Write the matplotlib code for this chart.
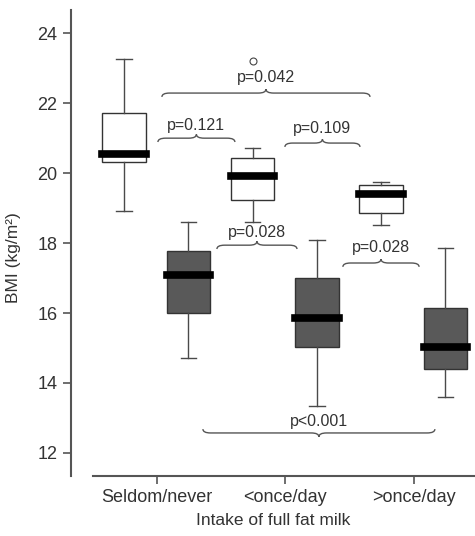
import numpy as np
import matplotlib.pyplot as plt
from matplotlib.path import Path
from matplotlib.patches import PathPatch

plt.rcParams['font.family'] = ['Liberation Sans', 'DejaVu Sans']

#%% data
categories = ['Seldom/never', '<once/day', '>once/day']

# light boxes
light_whislo = [18.91, 18.60, 18.51]
light_q1 = [20.31, 19.23, 18.86]
light_med = [20.54, 19.91, 19.40]
light_q3 = [21.71, 20.43, 19.66]
light_whishi = [23.26, 20.71, 19.74]
light_fliers = [[], [23.2], []]

# dark boxes
dark_whislo = [14.71, 13.34, 13.60]
dark_q1 = [16.00, 15.03, 14.40]
dark_med = [17.09, 15.86, 15.03]
dark_q3 = [17.77, 17.00, 16.14]
dark_whishi = [18.60, 18.09, 17.86]
dark_fliers = [[], [], []]

# comparison braces: label, x-start, x-end, brace y, text y, direction
p_labels = ['p=0.042', 'p=0.121', 'p=0.109', 'p=0.028', 'p=0.028', 'p<0.001']
p_x1 = [0.039, 0.008, 0.996, 0.467, 1.447, 0.358]
p_x2 = [1.658, 0.607, 1.580, 1.090, 2.040, 2.163]
p_ybrace = [22.29, 21.00, 20.86, 17.94, 17.43, 12.57]
p_ytext = [22.74, 21.37, 21.29, 18.29, 17.86, 12.89]
p_up = [True, True, True, True, True, False]

#%%
def make_stats(lo, q1, med, q3, hi, fl):
    return [dict(whislo=a, q1=b, med=c, q3=d, whishi=e, fliers=f)
            for a, b, c, d, e, f in zip(lo, q1, med, q3, hi, fl)]

def draw_brace(ax, x1, x2, y, up=True, h=0.11, d=0.06):
    '''curly brace, cusp points up (towards text) if up'''
    s = 1 if up else -1
    xm = (x1 + x2) / 2.
    verts = [(x1, y - s*h), (x1, y), (x1 + d, y),
             (xm - d, y), (xm, y), (xm, y + s*h),
             (xm, y), (xm + d, y),
             (x2 - d, y), (x2, y), (x2, y - s*h)]
    codes = [Path.MOVETO, Path.CURVE3, Path.CURVE3,
             Path.LINETO, Path.CURVE3, Path.CURVE3,
             Path.CURVE3, Path.CURVE3,
             Path.LINETO, Path.CURVE3, Path.CURVE3]
    ax.add_patch(PathPatch(Path(verts, codes), fill=False, edgecolor='#555555', lw=1.0))

fig = plt.figure(figsize=(4.75, 5.36), dpi=100)
ax = fig.add_axes([0.149, 0.112, 0.851, 0.869])

pos = np.arange(len(categories))
common = dict(widths=0.34, showfliers=True, patch_artist=True, capwidths=0.12,
              whiskerprops=dict(color='#4a4a4a', lw=1.0),
              capprops=dict(color='#4a4a4a', lw=1.0),
              medianprops=dict(color='black', lw=5.5, solid_capstyle='projecting'),
              flierprops=dict(marker='o', markersize=5, markerfacecolor='none',
                              markeredgecolor='#444444', markeredgewidth=0.8))

ax.bxp(make_stats(light_whislo, light_q1, light_med, light_q3, light_whishi, light_fliers),
       positions=pos - 0.255, boxprops=dict(facecolor='white', edgecolor='#333333', lw=1.0),
       **common)
ax.bxp(make_stats(dark_whislo, dark_q1, dark_med, dark_q3, dark_whishi, dark_fliers),
       positions=pos + 0.245, boxprops=dict(facecolor='#595959', edgecolor='#333333', lw=1.0),
       **common)

for lab, x1, x2, yb, yt, up in zip(p_labels, p_x1, p_x2, p_ybrace, p_ytext, p_up):
    draw_brace(ax, x1, x2, yb, up=up)
    ax.text((x1 + x2) / 2., yt, lab, ha='center', va='center', fontsize=11.5, color='#333333')

ax.set_xlim(-0.67, 2.475)
ax.set_ylim(11.34, 24.66)
ax.set_xticks(pos)
ax.set_xticklabels(categories)
ax.set_yticks([12, 14, 16, 18, 20, 22, 24])
ax.tick_params(axis='both', colors='#555555', labelcolor='#333333', labelsize=13,
               length=6, width=1.2, direction='out')
for s in ['top', 'right']:
    ax.spines[s].set_visible(False)
for s in ['left', 'bottom']:
    ax.spines[s].set_color('#555555')
    ax.spines[s].set_linewidth(1.5)
ax.spines['bottom'].set_bounds(-0.5, 2.475)
ax.set_xlabel('Intake of full fat milk', fontsize=12.5, color='#333333', labelpad=5)
ax.set_ylabel('BMI (kg/m²)', fontsize=12.5, color='#333333')
ax.yaxis.set_label_coords(-0.122, 0.468)

fig.savefig('out.png', dpi=100)
